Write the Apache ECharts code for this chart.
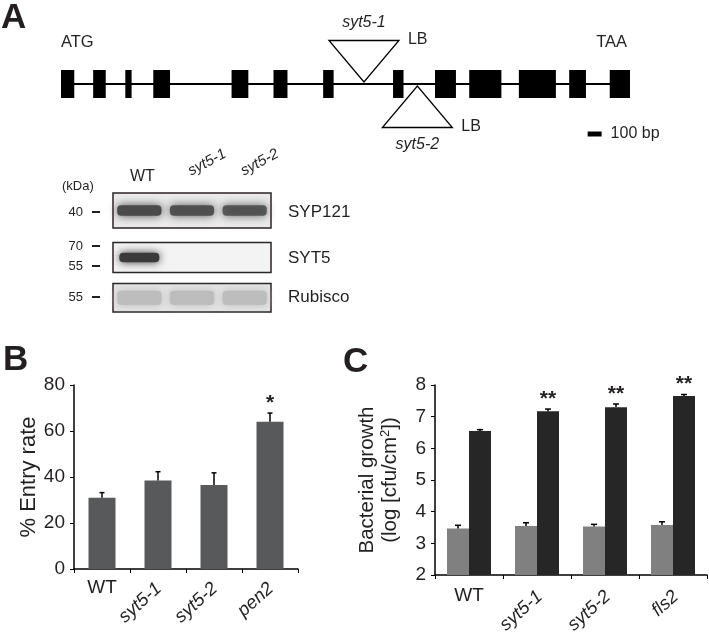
<!DOCTYPE html>
<html>
<head>
<meta charset="utf-8">
<script src="https://cdn.jsdelivr.net/npm/echarts@6/dist/echarts.min.js"></script>
<style>
html, body { margin: 0; padding: 0; background: #fff; }
#main { width: 709px; height: 637px; }
</style>
</head>
<body>
<div id="main"></div>
<script>
// A - gene model, positions in bp from ATG
const exonStart = [0, 230, 460, 660, 1220, 1520, 1875, 2375, 2675, 2920, 3275, 3635, 3925]
const exonEnd = [95, 320, 505, 780, 1340, 1620, 1950, 2450, 2825, 3150, 3540, 3755, 4070]
const geneLength = 4070
const insertNames = ["syt5-1", "syt5-2"]
const insertPos = [2167, 2549]
const insertSide = [1, -1] // 1 = drawn above the gene, -1 = below
const scaleBarBp = [3767, 3867]

// A - western blot (relative band intensity per lane)
const lanes = ["WT", "syt5-1", "syt5-2"]
const syp121 = [1, 0.92, 0.88]
const syt5 = [1, 0, 0]
const rubisco = [1, 1, 1]

// B - entry rate
const linesB = ["WT", "syt5-1", "syt5-2", "pen2"]
const entryRate = [31, 38.5, 36.5, 64]
const entryErr = [2.2, 3.8, 5.3, 3.8]
const entrySig = ["", "", "", "*"]

// C - bacterial growth
const linesC = ["WT", "syt5-1", "syt5-2", "fls2"]
const growthDay0 = [3.47, 3.55, 3.53, 3.58]
const growthDay0Err = [0.1, 0.1, 0.07, 0.1]
const growthDay3 = [6.55, 7.17, 7.3, 7.65]
const growthDay3Err = [0.04, 0.07, 0.1, 0.05]
const growthSig = ["", "**", "**", "**"]

const FONT = '"Liberation Sans", Arial, sans-serif'
const INK = "#231f20"

function txt(text, x, y, size, align, weight) {
  return {
    legacy: false,
    text: text, x: x, y: y,
    font: (weight || "") + " " + size + "px " + FONT,
    fill: INK,
    align: align || "left",
    verticalAlign: "middle"
  }
}
function label(text, x, y, size, align, weight) {
  return { type: "text", silent: true, style: txt(text, x, y, size, align, weight) }
}
function dash(x1, x2, y) {
  return { type: "line", silent: true, shape: { x1: x1, y1: y, x2: x2, y2: y }, style: { stroke: INK, lineWidth: 2 } }
}

// gene model
function renderExon(params, api) {
  const a = api.coord([api.value(0), 14])
  const b = api.coord([api.value(1), -14])
  return { type: "rect", shape: { x: a[0], y: a[1], width: b[0] - a[0], height: b[1] - a[1] }, style: { fill: "#000" } }
}
function renderInsert(params, api) {
  const i = params.dataIndex
  const side = api.value(1)
  const p = api.coord([api.value(0), 0])
  const x = p[0], y0 = p[1]
  const baseY = y0 - side * 43.5
  const tipY = y0 - side * 2
  return {
    type: "group",
    children: [
      { type: "polygon", shape: { points: [[x - 35, baseY], [x + 35, baseY], [x, tipY]] }, style: { fill: "#fff", stroke: "#000", lineWidth: 1.3 } },
      { type: "text", style: txt(insertNames[i], x, y0 - side * 61, 16, "center", "italic") },
      { type: "text", style: txt("LB", x + 44, baseY - 1, 16, "left") }
    ]
  }
}
function renderScale(params, api) {
  const a = api.coord([api.value(0), 0])
  const b = api.coord([api.value(1), 0])
  return {
    type: "group",
    children: [
      { type: "rect", shape: { x: a[0], y: a[1] + 47.5, width: b[0] - a[0], height: 5 }, style: { fill: "#000" } },
      { type: "text", style: txt((api.value(1) - api.value(0)) + " bp", b[0] + 9, a[1] + 50, 16, "left") }
    ]
  }
}

// blot bands
function bandRender(wFrac, hFrac, color, blur) {
  return function (params, api) {
    const level = api.value(1)
    if (!level) return { type: "group", children: [] }
    const c = api.coord([api.value(0), 0.5])
    const w = api.size([1, 0])[0] * wFrac
    const h = api.size([0, hFrac])[1]
    return {
      type: "rect",
      shape: { x: c[0] - w / 2, y: c[1] - h / 2, width: w, height: h, r: 4 },
      style: { fill: color, opacity: level, shadowBlur: blur, shadowColor: color }
    }
  }
}

// error bars + significance marks
function errRender(offset, capHalf, sig) {
  return function (params, api) {
    const v = api.value(1), e = api.value(2)
    const base = api.coord([api.value(0), v])
    const top = api.coord([api.value(0), v + e])
    const x = base[0] + offset
    const children = [
      { type: "line", shape: { x1: x, y1: base[1], x2: x, y2: top[1] }, style: { stroke: "#000", lineWidth: 1.5 } },
      { type: "line", shape: { x1: x - capHalf, y1: top[1], x2: x + capHalf, y2: top[1] }, style: { stroke: "#000", lineWidth: 1.5 } }
    ]
    const s = sig ? sig[params.dataIndex] : ""
    if (s) children.push({ type: "text", style: txt(s, x, top[1] - 10, 21, "center", "bold") })
    return { type: "group", children: children }
  }
}

// category labels: WT upright, mutant names italic and slanted
function catLabels(names, o) {
  return function (params, api) {
    const i = params.dataIndex
    const p = api.coord([api.value(0), api.value(1)])
    if (names[i] === "WT") return { type: "text", style: txt(names[i], p[0] + o.wtDx, p[1] + o.wtDy, o.size, "center") }
    return {
      type: "group", x: p[0] + o.dx, y: p[1] + o.dy, rotation: o.angle * Math.PI / 180,
      children: [{ type: "text", style: txt(names[i], 0, 0, o.rotSize, o.align, "italic") }]
    }
  }
}

const baseGrid = { containLabel: false, outerBoundsMode: "none" }
const blotGrid = Object.assign({ show: true, borderColor: "#2b2424", borderWidth: 1.5 }, baseGrid)
const axisInk = { color: "#000", width: 1.5 }
const hiddenCat = (g, data) => ({ gridIndex: g, type: "category", data: data, show: false })
const hiddenVal = (g, min, max) => ({ gridIndex: g, type: "value", min: min, max: max, show: false })

function catAxis(g, data) {
  return {
    gridIndex: g, type: "category", data: data, position: "bottom",
    axisLine: { show: true, onZero: false, lineStyle: axisInk },
    axisTick: { show: true, length: 4, lineStyle: { color: "#000", width: 1 } },
    splitLine: { show: false },
    axisLabel: { show: false }
  }
}
function valAxis(g, min, max, interval, name, nameGap, nameSize) {
  return {
    gridIndex: g, type: "value", min: min, max: max, interval: interval,
    name: name, nameLocation: "middle", nameGap: nameGap,
    nameTextStyle: { fontFamily: FONT, fontSize: nameSize, color: INK, lineHeight: 23, rich: { sup: { fontFamily: FONT, fontSize: 13, color: INK, verticalAlign: "top", lineHeight: 23 } } },
    axisLine: { show: true, lineStyle: axisInk },
    axisTick: { show: true, length: 4, lineStyle: { color: "#000", width: 1 } },
    splitLine: { show: false },
    axisLabel: { fontFamily: FONT, fontSize: 19, color: INK, margin: 9 }
  }
}

const chart = echarts.init(document.getElementById("main"))
chart.setOption({
  animation: false,
  grid: [
    Object.assign({ left: 61, right: 79, top: 34, height: 100 }, baseGrid),
    Object.assign({ left: 113, top: 193, width: 158, height: 35, backgroundColor: "#ebebeb" }, blotGrid),
    Object.assign({ left: 113, top: 242.5, width: 158, height: 30, backgroundColor: "#f3f3f3" }, blotGrid),
    Object.assign({ left: 113, top: 283.5, width: 158, height: 28.5, backgroundColor: "#e4e4e4" }, blotGrid),
    Object.assign({ left: 74, right: 411, top: 385, bottom: 68 }, baseGrid),
    Object.assign({ left: 435, right: 2, top: 385, bottom: 62 }, baseGrid)
  ],
  xAxis: [
    { gridIndex: 0, type: "value", min: 0, max: geneLength, show: false },
    hiddenCat(1, lanes),
    hiddenCat(2, lanes),
    hiddenCat(3, lanes),
    catAxis(4, linesB),
    catAxis(5, linesC)
  ],
  yAxis: [
    hiddenVal(0, -50, 50),
    hiddenVal(1, 0, 1),
    hiddenVal(2, 0, 1),
    hiddenVal(3, 0, 1),
    valAxis(4, 0, 80, 20, "% Entry rate", 33, 22),
    valAxis(5, 2, 8, 1, "Bacterial growth\n(log [cfu/cm{sup|2}])", 33, 20.5)
  ],
  graphic: [
    label("A", 1, 18, 35, "left", "bold"),
    label("B", 3, 360, 35, "left", "bold"),
    label("C", 343, 362, 35, "left", "bold"),
    label("ATG", 61, 42.5, 16.5),
    label("TAA", 627, 42.5, 16.5, "right"),
    label("(kDa)", 62, 186, 13),
    label("40", 83, 212, 13, "right"), dash(92, 100, 212),
    label("70", 83, 246, 13, "right"), dash(92, 100, 246),
    label("55", 83, 266, 13, "right"), dash(92, 100, 266),
    label("55", 83, 297, 13, "right"), dash(92, 100, 297),
    label("SYP121", 288, 212, 17),
    label("SYT5", 288, 258, 17),
    label("Rubisco", 288, 297, 17)
  ],
  series: [
    // gene
    { type: "line", xAxisIndex: 0, yAxisIndex: 0, data: [[0, 0], [geneLength, 0]], symbol: "none", silent: true, lineStyle: { color: "#000", width: 2 } },
    { type: "custom", xAxisIndex: 0, yAxisIndex: 0, silent: true, data: exonStart.map((s, i) => [s, exonEnd[i]]), renderItem: renderExon },
    { type: "custom", xAxisIndex: 0, yAxisIndex: 0, silent: true, data: insertPos.map((p, i) => [p, insertSide[i]]), renderItem: renderInsert },
    { type: "custom", xAxisIndex: 0, yAxisIndex: 0, silent: true, data: [scaleBarBp], renderItem: renderScale },
    // blot
    { type: "custom", xAxisIndex: 1, yAxisIndex: 1, silent: true, data: syp121.map((v, i) => [i, v]), renderItem: bandRender(0.84, 0.3, "#4a4a4a", 10) },
    { type: "custom", xAxisIndex: 2, yAxisIndex: 2, silent: true, data: syt5.map((v, i) => [i, v]), renderItem: bandRender(0.76, 0.32, "#3a3a3a", 8) },
    { type: "custom", xAxisIndex: 3, yAxisIndex: 3, silent: true, data: rubisco.map((v, i) => [i, v]), renderItem: bandRender(0.84, 0.5, "#bdbdbd", 9) },
    {
      type: "custom", xAxisIndex: 1, yAxisIndex: 1, silent: true, z: 6, data: lanes.map((n, i) => [i, 1]),
      renderItem: catLabels(lanes, { size: 16, wtDx: 3, wtDy: -16, dx: -3, dy: -21, angle: 28, rotSize: 15, align: "left" })
    },
    // B
    { type: "bar", xAxisIndex: 4, yAxisIndex: 4, data: entryRate, barWidth: 27, itemStyle: { color: "#58595b" }, silent: true },
    { type: "custom", xAxisIndex: 4, yAxisIndex: 4, silent: true, z: 5, data: entryRate.map((v, i) => [i, v, entryErr[i]]), renderItem: errRender(0, 2.5, entrySig) },
    {
      type: "custom", xAxisIndex: 4, yAxisIndex: 4, silent: true, data: linesB.map((n, i) => [i, 0]),
      renderItem: catLabels(linesB, { size: 19, wtDx: 0, wtDy: 19, dx: 1, dy: 17, angle: 42, rotSize: 18.5, align: "right" })
    },
    // C
    { type: "bar", xAxisIndex: 5, yAxisIndex: 5, data: growthDay0, barWidth: 22, barGap: "0%", itemStyle: { color: "#808080" }, silent: true },
    { type: "bar", xAxisIndex: 5, yAxisIndex: 5, data: growthDay3, barWidth: 22, barGap: "0%", itemStyle: { color: "#262626" }, silent: true },
    { type: "custom", xAxisIndex: 5, yAxisIndex: 5, silent: true, z: 5, data: growthDay0.map((v, i) => [i, v, growthDay0Err[i]]), renderItem: errRender(-11, 3, null) },
    { type: "custom", xAxisIndex: 5, yAxisIndex: 5, silent: true, z: 5, data: growthDay3.map((v, i) => [i, v, growthDay3Err[i]]), renderItem: errRender(11, 3, growthSig) },
    {
      type: "custom", xAxisIndex: 5, yAxisIndex: 5, silent: true, data: linesC.map((n, i) => [i, 2]),
      renderItem: catLabels(linesC, { size: 19, wtDx: 0, wtDy: 21, dx: 3, dy: 19, angle: 42, rotSize: 18.5, align: "right" })
    }
  ]
})
</script>
</body>
</html>
